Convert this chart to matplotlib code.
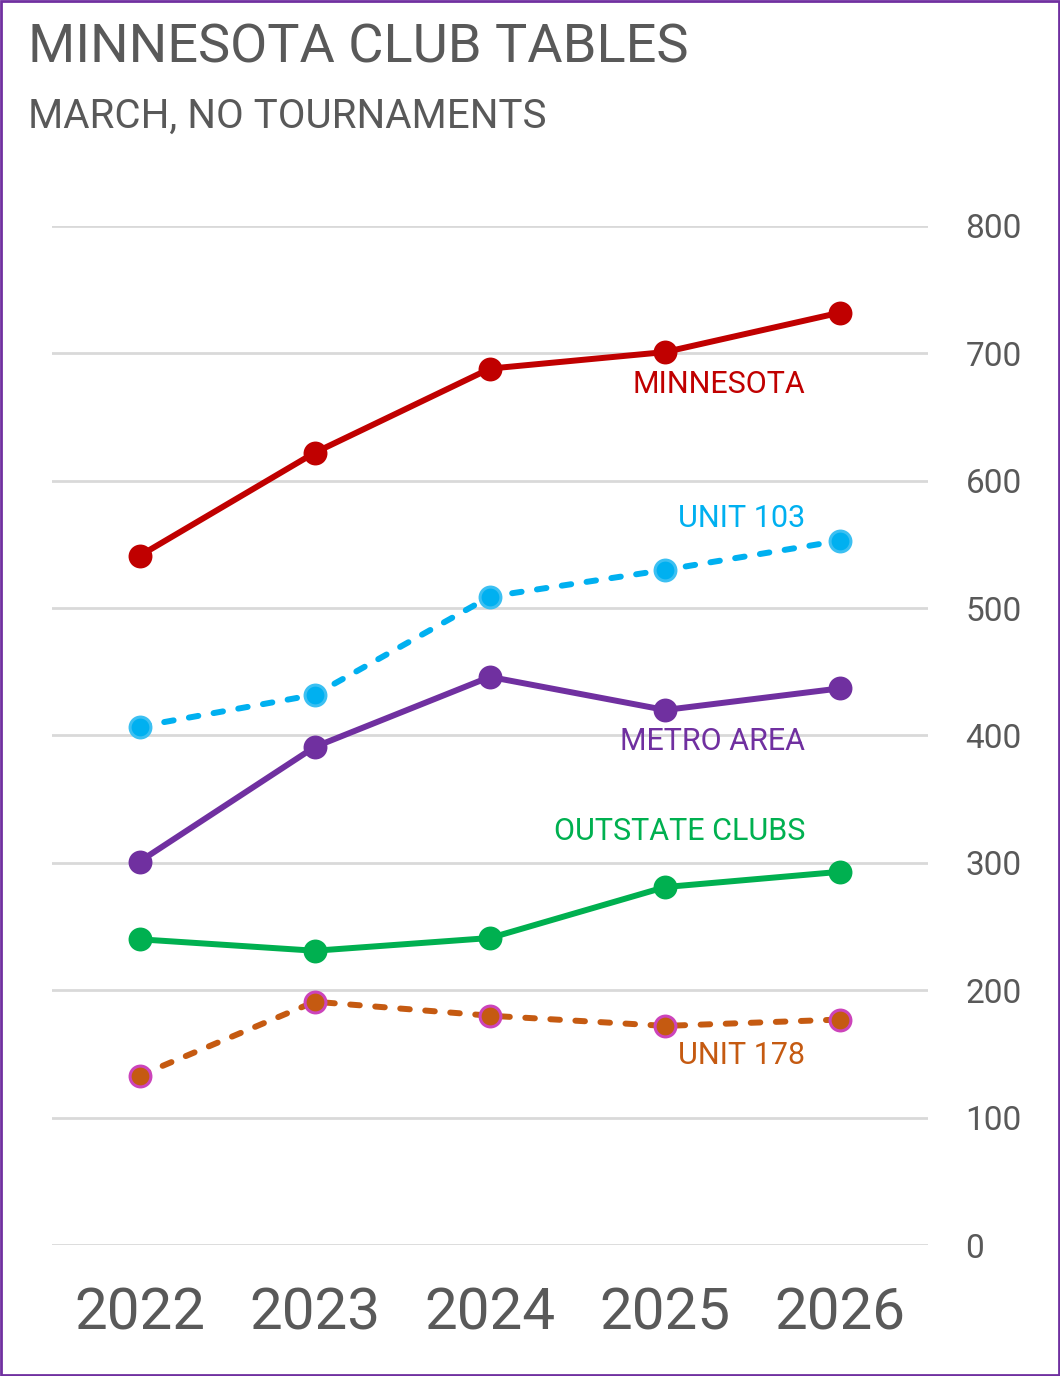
import matplotlib
matplotlib.use("Agg")
import matplotlib.pyplot as plt
from matplotlib.patches import Rectangle

plt.rcParams['font.family'] = ['Roboto', 'DejaVu Sans']

# data
years = [2022, 2023, 2024, 2025, 2026]
minnesota = [541, 622, 688, 701, 732]
unit103 = [407, 432, 509, 530, 553]
metro = [301, 391, 446, 420, 437]
outstate = [240, 231, 241, 281, 293]
unit178 = [133, 191, 180, 172, 177]
yticks = [0, 100, 200, 300, 400, 500, 600, 700, 800]

fig = plt.figure(figsize=(10.6, 13.76), dpi=100)
ax = fig.add_axes([0.049, 0.0952, 0.8264, 0.7406])

grey = '#595959'

series = [
    (minnesota, '#C00000', '#C00000', '-', 'MINNESOTA', (805, 384)),
    (unit103, '#00B0F0', '#3CC0F2', '--', 'UNIT 103', (805, 519)),
    (metro, '#7030A0', '#7030A0', '-', 'METRO AREA', (805, 742)),
    (outstate, '#00B050', '#00B050', '-', 'OUTSTATE CLUBS', (805, 832)),
    (unit178, '#C55A11', '#CC44BB', '--', 'UNIT 178', (805, 1056)),
]

for vals, col, edge, ls, name, (px, py) in series:
    line, = ax.plot(years, vals, color=col, lw=4.3, ls=ls,
                    marker='o', ms=15, mfc=col, mec=edge, mew=2.2, zorder=3)
    if ls == '--':
        line.set_dashes((1.6, 2.6))
        line.set_dash_capstyle('round')
    fig.text(px / 1060, 1 - py / 1376, name, color=col, fontsize=22,
             ha='right', va='center')

ax.set_xlim(2021.5, 2026.5)
ax.set_ylim(0, 800)
ax.set_yticks(yticks)
ax.set_xticks(years)
ax.grid(axis='y', color='#D9D9D9', lw=2)
ax.set_axisbelow(True)
for s in ax.spines.values():
    s.set_visible(False)
ax.yaxis.tick_right()
ax.tick_params(axis='y', length=0, pad=27, labelsize=24, labelcolor=grey)
ax.tick_params(axis='x', length=0, pad=30, labelsize=42, labelcolor=grey)

fig.text(28 / 1060, 1 - 48 / 1376, 'MINNESOTA CLUB TABLES', fontsize=39,
         color=grey, va='center', ha='left')
fig.text(28 / 1060, 1 - 116 / 1376, 'MARCH, NO TOURNAMENTS', fontsize=29,
         color=grey, va='center', ha='left')

fig.add_artist(Rectangle((0.001, 0.001), 0.998, 0.998, transform=fig.transFigure,
                         fill=False, edgecolor='#7030A0', lw=2))

fig.savefig('out.png', dpi=100)
